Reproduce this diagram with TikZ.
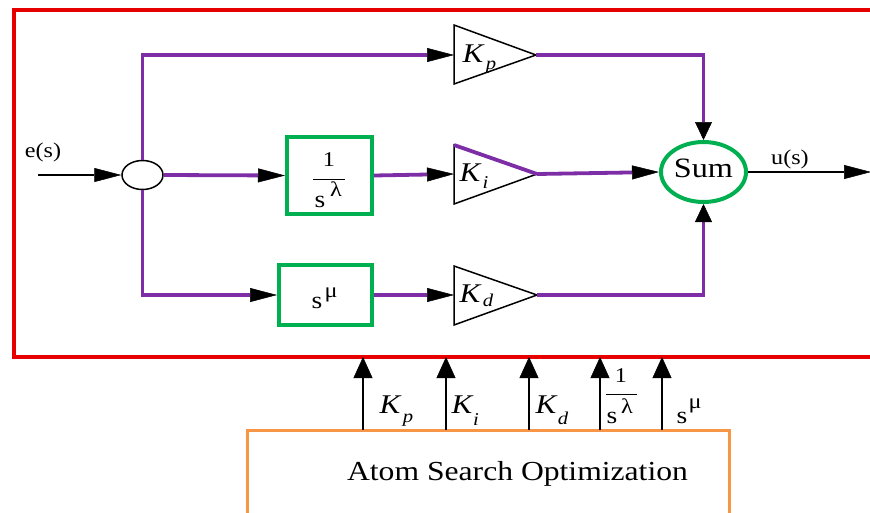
\documentclass[tikz,border=0pt]{standalone}
\usepackage{fontspec}
\setmainfont[FakeStretch=1.15]{Liberation Serif}
\usetikzlibrary{arrows.meta,shapes.geometric}
\definecolor{pur}{RGB}{125,45,165}
\definecolor{grn}{RGB}{0,176,80}
\definecolor{redb}{RGB}{230,0,0}
\definecolor{org}{RGB}{247,150,70}
\newcommand\fs[1]{\fontsize{#1}{#1}\selectfont}
\begin{document}
\begin{tikzpicture}[x=1pt,y=-1pt,
  tipH/.style={-{Triangle[length=27pt,width=14pt,color=black,line width=0.5pt]}},
  tipV/.style={-{Triangle[length=21pt,width=19pt,color=black,line width=0.5pt]}},
  tipS/.style={-{Triangle[length=18pt,width=17pt,color=black,line width=0.5pt]}},
  pline/.style={pur,line width=3.8pt},
  bline/.style={black,line width=2pt},
  gbox/.style={draw=grn,line width=4pt,inner sep=0pt},
  tri/.style={draw=black,line width=1.5pt,line join=miter},
  kbig/.style={inner sep=0pt,font=\fs{27}\itshape},
  ksub/.style={inner sep=0pt,font=\fs{18}\itshape},
  txt/.style={inner sep=0pt,font=\fs{21}},
  frac/.style={inner sep=0pt,font=\fs{21}}
]
\useasboundingbox (0,0) rectangle (870,512);
\clip (0,0) rectangle (870,512);

% frames
\draw[redb,line width=4pt] (14.3,9.5) rectangle (890,357);
\draw[org,line width=3pt] (247,430) rectangle (729,540);
\node[inner sep=0pt,font=\fs{27.5}] (aso) at (517.5,474) {Atom Search Optimization};

% junction and blocks
\node[draw,ellipse,line width=1.5pt,minimum width=41pt,minimum height=29pt,inner sep=0pt] (j) at (142.5,175) {};
\node[gbox,minimum width=85pt,minimum height=77pt] (bi) at (329.5,175.5) {};
\node[gbox,minimum width=93pt,minimum height=60pt] (bd) at (325.5,295) {};
\node[draw=grn,line width=4pt,ellipse,minimum width=85pt,minimum height=60pt,inner sep=0pt,text depth=8pt,font=\fs{28}] (sum) at (703.5,172) {Sum};

% triangles
\coordinate (kpA) at (454,25);  \coordinate (kpB) at (454,84);  \coordinate (kpT) at (536,55);  \coordinate (kpI) at (454,55);
\coordinate (kiA) at (454,145); \coordinate (kiB) at (454,204); \coordinate (kiT) at (537,174); \coordinate (kiI) at (454,174);
\coordinate (kdA) at (454,266); \coordinate (kdB) at (454,325); \coordinate (kdT) at (537,295); \coordinate (kdI) at (454,295);
\draw[tri] (kpA) -- (kpT) -- (kpB) -- cycle;
\draw[tri] (kiA) -- (kiT) -- (kiB) -- cycle;
\draw[tri] (kdA) -- (kdT) -- (kdB) -- cycle;
\draw[pur,line width=3.8pt] (kiA) -- (kiT);

% triangle labels
\node[kbig] (lkp) at (473,53.5) {K};   \node[ksub] (lkps) at (491,67) {p};
\node[kbig] (lki) at (470,172.5) {K};  \node[ksub] (lkis) at (485.5,183) {i};
\node[kbig] (lkd) at (470,293.5) {K};  \node[ksub] (lkds) at (488,300) {d};

% block labels
\node[frac] (b1) at (329,160) {1};
\coordinate (bL) at (313,179); \coordinate (bR) at (345,179);
\draw[line width=1pt] (bL) -- (bR);
\node[frac,font=\fs{24}] (bs) at (320,202) {s};
\node[frac] (bl) at (336,189.5) {λ};
\node[frac,font=\fs{24}] (ds) at (317,303) {s};
\node[frac] (dm) at (331,294.5) {μ};

% connectors
\coordinate (ein) at (38,175);
\node[txt] (es) at (43,152) {e(s)};
\draw[bline,tipH] (ein) -- (j.west);
\draw[pline,tipH] (j.north) |- (kpI);
\draw[pline,tipH] (j.east) -- (bi.west);
\draw[pline,tipH] (j.south) |- (bd.west);
\draw[pline,tipH] (bi.east) -- (kiI);
\draw[pline,tipH] (bd.east) -- (kdI);
\draw[pline,tipS] (kpT) -| (sum.north);
\draw[pline,tipH] (kiT) -- (sum.west);
\draw[pline,tipS] (kdT) -| (sum.south);
\coordinate (uout) at (871,172);
\draw[bline,tipH] (sum.east) -- (uout);
\node[txt] (us) at (790,159) {u(s)};

% parameter arrows
\foreach \n/\x in {1/363,2/446,3/529,4/600,5/662}{
  \coordinate (o\n) at (\x,430);
  \coordinate (r\n) at (\x,357);
  \draw[bline,tipV] (o\n) -- (r\n);
}
\node[kbig] (pkp) at (390,405) {K};  \node[ksub] (pkps) at (408,420) {p};
\node[kbig] (pki) at (462,405) {K};  \node[ksub] (pkis) at (476,420) {i};
\node[kbig] (pkd) at (546,405) {K};  \node[ksub] (pkds) at (563,418) {d};
\node[frac] (p1) at (621,376) {1};
\coordinate (pL) at (606,394); \coordinate (pR) at (637,394);
\draw[line width=1pt] (pL) -- (pR);
\node[frac,font=\fs{24}] (ps) at (612,417.5) {s};
\node[frac] (pl) at (627,406) {λ};
\node[frac,font=\fs{24}] (qs) at (682,417.5) {s};
\node[frac] (qm) at (695,406) {μ};
\end{tikzpicture}
\end{document}
